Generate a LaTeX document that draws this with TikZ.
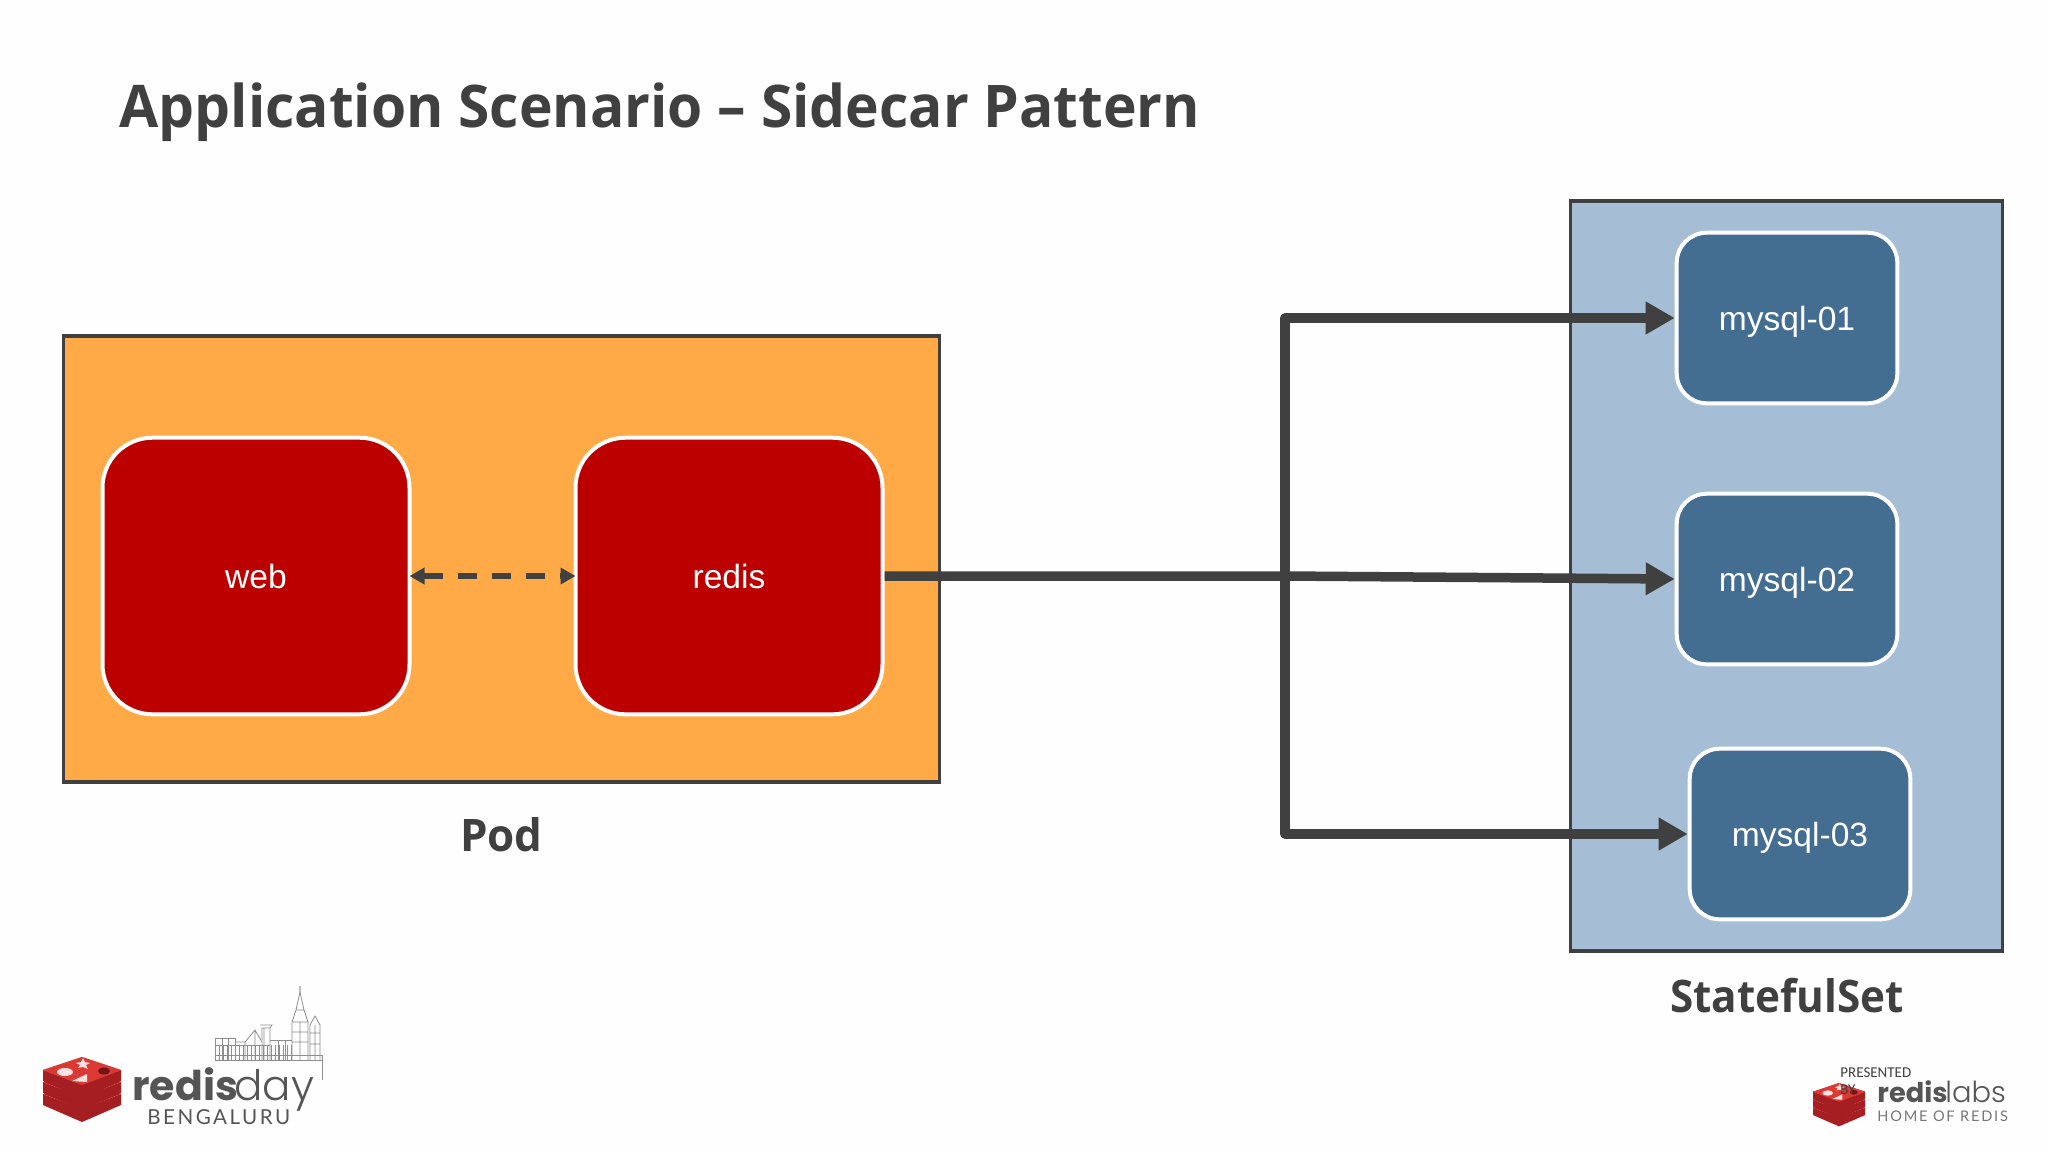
\documentclass[tikz,border=0pt]{standalone}
\usepackage{fontspec}
\setmainfont{Liberation Sans}
\newfontfamily\opens{Open Sans}
\newfontfamily\carl{Carlito}
\newfontfamily\popp{Poppins}
\newfontfamily\poppl{Poppins Light}
\newfontfamily\lato{Lato}
\newfontfamily\latosp[LetterSpace=12]{Lato}
\usetikzlibrary{arrows.meta}
\definecolor{ink}{HTML}{404040}
\definecolor{podfill}{HTML}{FFAA46}
\definecolor{setfill}{HTML}{A5BDD5}
\definecolor{boxred}{HTML}{BC0000}
\definecolor{boxblue}{HTML}{446D92}
\definecolor{logored}{HTML}{C9282A}
\definecolor{logodark}{HTML}{A41E22}
\definecolor{logolight}{HTML}{DB3A34}
\definecolor{skyline}{HTML}{8E8E8E}
\definecolor{logotext}{HTML}{555555}
\tikzset{
  container/.style={draw=ink,line width=1.6pt,inner sep=0pt},
  redbox/.style={draw=white,fill=boxred,line width=2pt,rounded corners=25pt,minimum width=153.5pt,minimum height=138.3pt,text=white,font=\fontsize{16.8}{20}\selectfont,inner sep=0pt,text height=12pt,text depth=0pt},
  bluebox/.style={draw=white,fill=boxblue,line width=2pt,rounded corners=15pt,minimum width=110.3pt,minimum height=85.3pt,text=white,font=\fontsize{16.8}{20}\selectfont,inner sep=0pt,text height=12pt,text depth=0pt},
  label/.style={text=ink,font=\opens\bfseries\fontsize{22.4}{28}\selectfont,inner sep=0pt,anchor=base},
  thick link/.style={draw=ink,line width=4.75pt,line join=round},
  head/.style={-{Triangle[length=14.5pt,width=15.5pt,inset=0pt]}},
  free/.style={inner sep=0pt,anchor=base west},
  sky/.style={draw=skyline,line width=0.4pt}
}
\newcommand{\stacklogo}[3]{%
 \begin{scope}[shift={(#1,#2)},xscale=#3,yscale=#3]
  \foreach \d in {24,12,0}{
   \fill[logodark] (0,13+\d) -- (39,28+\d) -- (78,13+\d) -- (78,24+\d) -- (39,41+\d) -- (0,24+\d) -- cycle;
   \fill[logored] (0,13+\d) -- (39,0+\d) -- (78,13+\d) -- (39,28+\d) -- cycle;
  }
  \fill[logolight] (0,13) -- (39,0) -- (78,13) -- (39,28) -- cycle;
  \fill[white!88!red] (22,15) ellipse (8 and 4);
  \fill[white!88!red] (40,1) -- (42,5) -- (47,6) -- (43,8) -- (45,12) -- (40,10) -- (35,11) -- (37,8) -- (33,6) -- (38,5) -- cycle;
  \fill[white!88!red] (29,24) -- (44,17) -- (44,25) -- cycle;
  \fill[logodark!70!black] (61,14) ellipse (6 and 3.5);
 \end{scope}}
\begin{document}
\begin{tikzpicture}[x=0.5pt,y=-0.5pt]
\useasboundingbox (0,0) rectangle (2048,1152);
\fill[white!99.5!black] (0,0) rectangle (2048,1152);
\node[free,text=ink,font=\opens\bfseries\fontsize{29.4}{34}\selectfont] (title) at (119,127) {\scalebox{0.968}[1]{Application Scenario – Sidecar Pattern}};
\node[container,fill=podfill,minimum width=438pt,minimum height=223pt] (pod) at (501.5,559) {};
\node[container,fill=setfill,minimum width=216pt,minimum height=375pt] (set) at (1786.5,576) {};
\node[redbox] (web) at (256,576) {web};
\node[redbox] (redis) at (729,576) {redis};
\node[bluebox] (m1) at (1787,318) {mysql-01};
\node[bluebox] (m2) at (1787,579) {mysql-02};
\node[bluebox] (m3) at (1800,834) {mysql-03};
\node[label] (podlabel) at (501.5,851) {\scalebox{0.98}[1]{Pod}};
\node[label] (setlabel) at (1787,1012) {\scalebox{0.942}[1]{StatefulSet}};
\coordinate (trunk) at (1285,576);
\draw[draw=ink,line width=2.6pt,dash pattern=on 9.5pt off 7.5pt,{Triangle[length=7.5pt,width=8pt,inset=0pt]}-{Triangle[length=7.5pt,width=8pt,inset=0pt]},shorten >=-1pt,shorten <=-1pt] (web.east) -- (redis.west);
\draw[thick link,head] (redis.east) -- (trunk) -- (m2.west);
\draw[thick link,head] (trunk) |- (m1.west);
\draw[thick link,head] (trunk) |- (m3.west);
% left logo
\stacklogo{43}{1057}{1}
\node[free,text=logotext,font=\popp\bfseries\fontsize{20.5}{24}\selectfont] (rd) at (132,1100) {redis};
\node[free,text=logotext,font=\poppl\fontsize{21}{24}\selectfont] (dy) at (234,1100) {day};
\node[free,text=logotext,font=\latosp\fontsize{10.3}{12}\selectfont] (bg) at (147,1124) {BENGALURU};
\begin{scope}[sky]
\draw (215,1060) -- (322,1060) (215,1055) -- (322,1055) (215,1045) -- (270,1045);
\foreach \vx in {215,219,...,291}{\draw (\vx,1045) -- (\vx,1060);}
\draw (215,1060) -- (215,1038) -- (235,1038) -- (235,1060) (222,1038) -- (222,1060) (228,1038) -- (228,1060);
\draw (235,1042) -- (245,1042) -- (255,1030) -- (262,1042) -- (262,1060) (245,1042) -- (245,1060) (255,1030) -- (255,1060);
\draw (262,1040) -- (262,1028) -- (270,1028) -- (270,1060) (260,1025) -- (272,1025) -- (270,1028) (264,1028) -- (264,1060);
\draw (270,1040) -- (292,1040) (278,1040) -- (278,1060) (285,1040) -- (285,1060);
\draw (292,1060) -- (292,1022) -- (296,1010) -- (300,992) -- (300,986);
\draw (300,986) -- (300,992) -- (304,1010) -- (308,1022) -- (308,1060) (292,1032) -- (308,1032) (292,1042) -- (308,1042) (292,1022) -- (308,1022) (296,1010) -- (304,1010) (300,1022) -- (300,1060);
\draw (310,1060) -- (310,1025) -- (315,1016) -- (320,1025) -- (320,1060) (310,1033) -- (320,1033) (310,1044) -- (320,1044) (315,1025) -- (315,1060);
\draw (322,1055) -- (322,1080);
\end{scope}
% right logo
\stacklogo{1813}{1083}{0.667}
\node[free,text=logotext,font=\popp\bfseries\fontsize{13.6}{16}\selectfont] (rl) at (1877,1102) {redis};
\node[free,text=logotext,font=\poppl\fontsize{14.5}{16}\selectfont] (lb) at (1945,1102) {labs};
\node[free,text=logotext!80!white,font=\latosp\fontsize{7.3}{9}\selectfont] (hm) at (1877,1121) {HOME OF REDIS};
\node[free,text=ink,font=\carl\fontsize{7.5}{9}\selectfont] (pr) at (1840,1077) {PRESENTED};
\node[free,text=ink,font=\carl\fontsize{7.5}{9}\selectfont] (by) at (1840,1094) {BY};
\end{tikzpicture}
\end{document}
